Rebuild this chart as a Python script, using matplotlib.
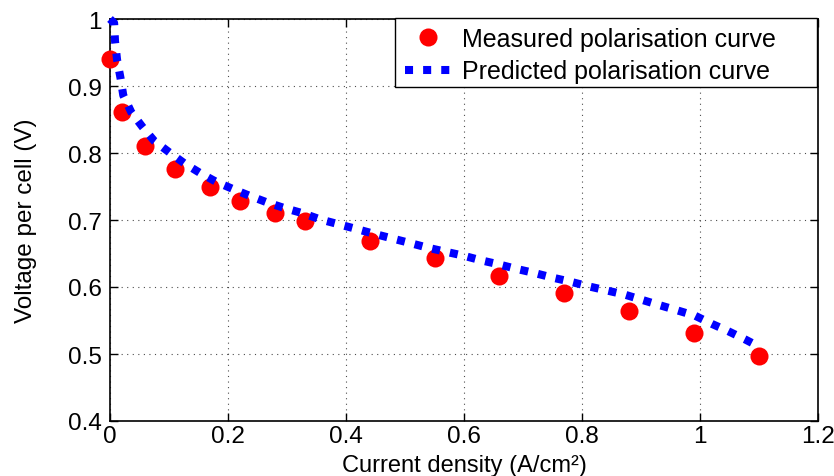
import matplotlib
matplotlib.use("Agg")
import matplotlib.pyplot as plt
from matplotlib.patches import Rectangle

plt.rcParams['font.family'] = ['Liberation Sans', 'DejaVu Sans']

# Measured polarisation curve
meas_x = [0.0, 0.02, 0.06, 0.11, 0.17, 0.22, 0.28, 0.33, 0.44, 0.55, 0.66, 0.77, 0.88, 0.99, 1.10]
meas_v = [0.940, 0.861, 0.811, 0.776, 0.749, 0.728, 0.710, 0.698, 0.668, 0.643, 0.617, 0.591, 0.564, 0.531, 0.497]

# Predicted polarisation curve
pred_x = [0.0, 0.007, 0.0085, 0.012, 0.018, 0.0225, 0.036, 0.055, 0.075, 0.102, 0.127, 0.153,
          0.180, 0.209, 0.237, 0.264, 0.295, 0.327, 0.356, 0.386, 0.416, 0.445, 0.476, 0.507,
          0.537, 0.567, 0.598, 0.628, 0.658, 0.689, 0.719, 0.750, 0.780, 0.811, 0.841, 0.871,
          0.901, 0.931, 0.962, 0.992, 1.020, 1.048, 1.076, 1.100]
pred_v = [1.000, 0.994, 0.967, 0.939, 0.911, 0.886, 0.861, 0.839, 0.818, 0.800, 0.784, 0.770,
          0.757, 0.746, 0.736, 0.727, 0.718, 0.710, 0.701, 0.694, 0.687, 0.680, 0.673, 0.666,
          0.659, 0.653, 0.647, 0.640, 0.634, 0.627, 0.621, 0.614, 0.608, 0.601, 0.595, 0.589,
          0.581, 0.573, 0.565, 0.557, 0.545, 0.534, 0.522, 0.511]

x_ticks = [0, 0.2, 0.4, 0.6, 0.8, 1, 1.2]
x_tick_labels = ['0', '0.2', '0.4', '0.6', '0.8', '1', '1.2']
y_ticks = [0.4, 0.5, 0.6, 0.7, 0.8, 0.9, 1]
y_tick_labels = ['0.4', '0.5', '0.6', '0.7', '0.8', '0.9', '1']

W, H = 834, 477
fig = plt.figure(figsize=(W/100, H/100), dpi=100)
ax = fig.add_axes([110/W, 1-422/H, (818-110)/W, (422-20)/H])

ax.plot(meas_x, meas_v, 'o', color='#ff0000', markersize=13, markeredgewidth=0,
        label='Measured polarisation curve', zorder=3, clip_on=False)
ax.plot(pred_x, pred_v, color='#0000ff', linewidth=5.8, linestyle=(0, (1.0, 1.25)),
        dash_capstyle='butt', label='Predicted polarisation curve', zorder=4, clip_on=False)

ax.set_xlim(0, 1.2)
ax.set_ylim(0.4, 1.0)
ax.set_xticks(x_ticks)
ax.set_xticklabels(x_tick_labels)
ax.set_yticks(y_ticks)
ax.set_yticklabels(y_tick_labels)
ax.tick_params(direction='in', length=6, width=1, top=True, right=True, labelsize=17.5)
ax.tick_params(axis='x', pad=3)
ax.tick_params(axis='y', pad=6)
ax.grid(True, color='black', linestyle=(0, (1, 4)), linewidth=0.8, alpha=0.7)
for s in ax.spines.values():
    s.set_linewidth(1.2)

ax.set_xlabel('Current density (A/cm²)', fontsize=17, labelpad=5)
ax.set_ylabel('Voltage per cell (V)', fontsize=17.5, labelpad=22)

# legend box (drawn as in the reference, with wide right padding)
box = Rectangle((395/W, 1-88/H), (817-395)/W, (88-19)/H, transform=fig.transFigure,
                facecolor='white', edgecolor='black', linewidth=1.0, zorder=5)
fig.patches.append(box)

leg = fig.legend(*ax.get_legend_handles_labels(), loc='upper left',
                 bbox_to_anchor=(405/W, 1-28/H), bbox_transform=fig.transFigure,
                 fontsize=18, frameon=False, borderaxespad=0, borderpad=0,
                 handlelength=1.8, handletextpad=0.5, labelspacing=0.33)
leg.set_zorder(6)

fig.savefig('out.png', dpi=100)
